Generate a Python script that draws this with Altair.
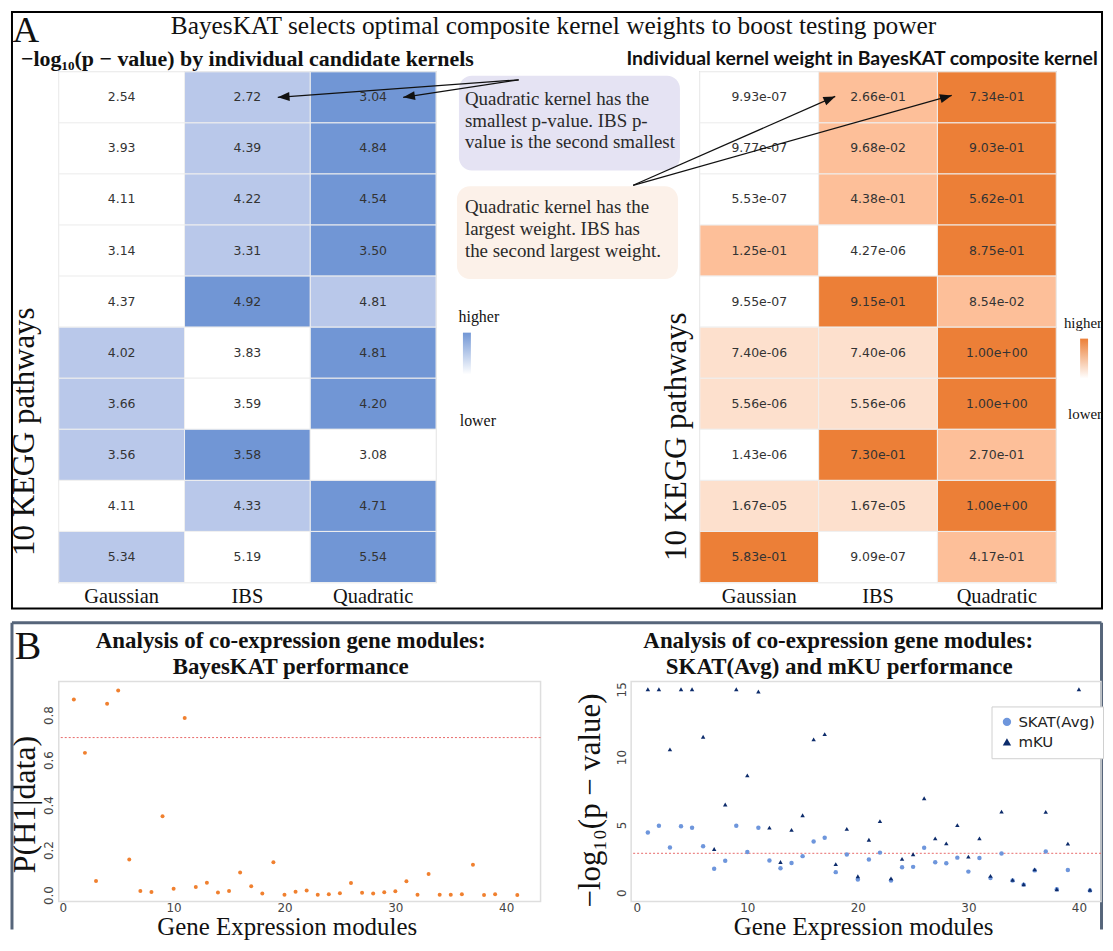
import math
import altair as alt
import pandas as pd

SERIF = "Liberation Serif"
SANS = "DejaVu Sans"

# ---------------- data ----------------
KERNELS = ["Gaussian", "IBS", "Quadratic"]
PATHWAYS = [1, 2, 3, 4, 5, 6, 7, 8, 9, 10]

LOGP_GAUSSIAN = [2.54, 3.93, 4.11, 3.14, 4.37, 4.02, 3.66, 3.56, 4.11, 5.34]
LOGP_IBS = [2.72, 4.39, 4.22, 3.31, 4.92, 3.83, 3.59, 3.58, 4.33, 5.19]
LOGP_QUADRATIC = [3.04, 4.84, 4.54, 3.50, 4.81, 4.81, 4.20, 3.08, 4.71, 5.54]

WEIGHT_GAUSSIAN = [9.93e-07, 9.77e-07, 5.53e-07, 1.25e-01, 9.55e-07,
                   7.40e-06, 5.56e-06, 1.43e-06, 1.67e-05, 5.83e-01]
WEIGHT_IBS = [2.66e-01, 9.68e-02, 4.38e-01, 4.27e-06, 9.15e-01,
              7.40e-06, 5.56e-06, 7.30e-01, 1.67e-05, 9.09e-07]
WEIGHT_QUADRATIC = [7.34e-01, 9.03e-01, 5.62e-01, 8.75e-01, 8.54e-02,
                    1.00e+00, 1.00e+00, 2.70e-01, 1.00e+00, 4.17e-01]

BAYES_MODULES = [1, 2, 3, 4, 5, 6, 7, 8, 9, 10, 11, 12, 13, 14, 15, 16, 17, 18, 19, 20,
                 21, 22, 23, 24, 25, 26, 27, 28, 29, 30, 31, 32, 33, 34, 35, 36, 37, 38, 39, 41]
BAYES_PROB = [0.869, 0.632, 0.062, 0.850, 0.909, 0.158, 0.018, 0.014, 0.350, 0.028,
              0.787, 0.036, 0.055, 0.011, 0.018, 0.100, 0.039, 0.007, 0.146, 0.001,
              0.015, 0.020, 0.001, 0.004, 0.008, 0.054, 0.010, 0.007, 0.012, 0.017,
              0.061, 0.001, 0.094, 0.001, 0.001, 0.004, 0.135, 0.000, 0.004, 0.000]
BAYES_THRESHOLD = 0.7

SKAT_MODULES = [1, 2, 3, 4, 5, 6, 7, 8, 9, 10, 11, 12, 13, 14, 15, 16, 17, 18, 19, 20,
                21, 22, 23, 24, 25, 26, 27, 28, 29, 30, 31, 32, 33, 34, 35, 36, 37, 38, 39, 41]
SKAT_LOGP = [4.43, 4.93, 3.33, 4.89, 4.79, 3.42, 1.76, 2.35, 4.93, 2.99,
             4.79, 2.37, 1.80, 2.19, 2.69, 3.77, 4.04, 1.51, 2.81, 0.96,
             2.44, 2.95, 0.89, 1.87, 1.90, 3.31, 2.24, 2.17, 2.58, 1.55,
             2.56, 1.07, 2.88, 0.89, 0.59, 1.64, 3.04, 0.25, 1.67, 0.16]
MKU_MODULES = [1, 2, 3, 4, 5, 6, 7, 8, 9, 10, 11, 12, 13, 14, 15, 16, 17, 18, 19, 20,
               21, 22, 23, 24, 25, 26, 27, 28, 29, 30, 31, 32, 33, 34, 35, 36, 37, 38, 39, 40, 41]
MKU_LOGP = [15.0, 15.0, 10.57, 15.0, 15.0, 11.5, 3.22, 6.5, 15.0, 8.65,
            14.84, 4.79, 2.26, 4.63, 5.71, 11.3, 11.69, 2.10, 4.70, 1.21,
            3.90, 5.27, 1.05, 2.49, 2.83, 6.96, 4.00, 3.63, 4.98, 2.65,
            4.00, 1.23, 5.98, 0.94, 0.62, 1.71, 5.96, 0.25, 3.61, 15.0, 0.21]
LOGP_THRESHOLD = 2.9
METHODS = ["SKAT(Avg)", "mKU"]
X_TICKS = [0, 10, 20, 30, 40]

# ---------------- styles ----------------
LEVELS = ["1", "1.5", "2", "3"]
BLUES = ["#ffffff", "#dde4f5", "#b9c8ea", "#7196d5"]
ORANGES = ["#ffffff", "#fde0cd", "#fdbf99", "#ec7f37"]
ORANGE_PT = "#f0802f"
SKAT_COLOR = "#6e96dc"
MKU_COLOR = "#0c2b6b"
THR_COLOR = "#e86a6a"

# page-coordinate origins of the four plot areas
HL = (56, 69)
HR = (700, 69)
HW_L, HW_R, HH = 379, 358, 513
SL = (56, 679)
SR = (631, 679)
SW_L, SW_R, SH = 484, 472, 221

ONE = pd.DataFrame({"k": [0]})


def txt(s, px, py, org, size, font=SERIF, weight="normal", align="left",
        baseline="alphabetic", color="#111111"):
    return alt.Chart(ONE).mark_text(
        text=s, font=font, fontSize=size, fontWeight=weight, align=align,
        baseline=baseline, color=color
    ).encode(x=alt.value(px - org[0]), y=alt.value(py - org[1]))


def box(x1, y1, x2, y2, org, fill="#ffffff", fill_opacity=1.0, stroke=None, sw=0, radius=0):
    kw = dict(fill=fill, fillOpacity=fill_opacity, cornerRadius=radius)
    if stroke:
        kw.update(stroke=stroke, strokeWidth=sw)
    else:
        kw.update(strokeWidth=0)
    return alt.Chart(ONE).mark_rect(**kw).encode(
        x=alt.value(x1 - org[0]), x2=alt.value(x2 - org[0]),
        y=alt.value(y1 - org[1]), y2=alt.value(y2 - org[1]))


def gbox(x1, y1, x2, y2, org, top_color):
    grad = alt.LinearGradient(
        gradient="linear", x1=0, y1=1, x2=0, y2=0,
        stops=[alt.GradientStop(offset=0, color="#ffffff"),
               alt.GradientStop(offset=1, color=top_color)])
    return alt.Chart(ONE).mark_rect(fill=grad, strokeWidth=0).encode(
        x=alt.value(x1 - org[0]), x2=alt.value(x2 - org[0]),
        y=alt.value(y1 - org[1]), y2=alt.value(y2 - org[1]))


def seg(x1, y1, x2, y2, org, color="#111111", sw=1.0):
    return alt.Chart(ONE).mark_rule(color=color, strokeWidth=sw).encode(
        x=alt.value(x1 - org[0]), y=alt.value(y1 - org[1]),
        x2=alt.value(x2 - org[0]), y2=alt.value(y2 - org[1]))


def arrow(x1, y1, x2, y2, org):
    ang = math.degrees(math.atan2(y2 - y1, x2 - x1)) % 360
    head = alt.Chart(ONE).mark_point(
        shape="M0,0L-1,-0.38L-1,0.38Z", filled=True, color="#111111",
        opacity=1, size=560, angle=ang, strokeWidth=0
    ).encode(x=alt.value(x2 - org[0]), y=alt.value(y2 - org[1]))
    return [seg(x1, y1, x2, y2, org, sw=1.2), head]


def heat_frame(g, i, q, fmt):
    recs = []
    for r, p in enumerate(PATHWAYS):
        vals = [g[r], i[r], q[r]]
        ranks = pd.Series(vals).rank(method="average").tolist()
        for k, v, rk in zip(KERNELS, vals, ranks):
            recs.append(dict(pathway=p, kernel=k, value=v,
                             label=format(v, fmt), level=f"{rk:g}"))
    return pd.DataFrame(recs)


def heat_layers(df, colors, org, ytitle_page):
    base = alt.Chart(df).encode(
        x=alt.X("kernel:N", sort=KERNELS,
                scale=alt.Scale(paddingInner=0, paddingOuter=0),
                axis=alt.Axis(title=None, orient="bottom", labelAngle=0, labelFont=SERIF,
                              labelFontSize=20.5, labelColor="#111111", labelPadding=4,
                              ticks=False, domain=False, grid=False)),
        y=alt.Y("pathway:O", sort=PATHWAYS,
                scale=alt.Scale(paddingInner=0, paddingOuter=0),
                axis=alt.Axis(title="10 KEGG pathways", labels=False, ticks=False,
                              domain=False, grid=False, titleFont=SERIF, titleFontSize=31,
                              titleFontWeight="normal", titleColor="#111111",
                              titleAngle=270, titleAlign="center", titleBaseline="middle",
                              titleX=ytitle_page[0] - org[0], titleY=ytitle_page[1] - org[1])),
    )
    cells = base.mark_rect(stroke="#efefef", strokeWidth=1).encode(
        color=alt.Color("level:N", scale=alt.Scale(domain=LEVELS, range=colors), legend=None))
    labels = base.mark_text(font=SANS, fontSize=12.5, color="#333333").encode(text="label:N")
    return [cells, labels]


# ---------------- panel A ----------------
df_logp = heat_frame(LOGP_GAUSSIAN, LOGP_IBS, LOGP_QUADRATIC, ".2f")
df_w = heat_frame(WEIGHT_GAUSSIAN, WEIGHT_IBS, WEIGHT_QUADRATIC, ".2e")

row1_y = HL[1] + HH / 20

decor_a = [
    box(9, 9, 1104, 608, HL, fill="#ffffff", fill_opacity=0, stroke="#000000", sw=2),
    txt("A", 23, 39, HL, 37, align="center"),
    txt("BayesKAT selects optimal composite kernel weights to boost testing power",
        553, 31, HL, 25.5, align="center"),
    txt("\u2212log\u2081\u2080(p \u2212 value) by individual candidate kernels",
        18, 63, HL, 22, weight="bold"),
    box(458, 73, 680, 168, HL, fill="#e5e3f3", radius=13),
    box(456, 184, 678, 277, HL, fill="#fcf1e9", radius=13),
    txt("Quadratic kernel has the", 464, 102, HL, 19, color="#2a2a2a"),
    txt("smallest p-value. IBS p-", 464, 124, HL, 19, color="#2a2a2a"),
    txt("value is the second smallest", 464, 146, HL, 19, color="#2a2a2a"),
    txt("Quadratic kernel has the", 464, 211, HL, 19, color="#2a2a2a"),
    txt("largest weight. IBS has", 464, 233, HL, 19, color="#2a2a2a"),
    txt("the second largest weight.", 464, 255, HL, 19, color="#2a2a2a"),
    txt("higher", 478, 320, HL, 16, align="center"),
    gbox(462, 331, 470, 373, HL, BLUES[-1]),
    txt("lower", 477, 425, HL, 16, align="center"),
]
decor_a += arrow(518, 77, 276, row1_y, HL)
decor_a += arrow(518, 77, 402, row1_y, HL)

heatL = alt.layer(*heat_layers(df_logp, BLUES, HL, (22, 430)), *decor_a).properties(
    width=HW_L, height=HH)

decor_r = [
    txt("Individual kernel weight in BayesKAT composite kernel", 863, 62, HR, 19.5,
        font="Lato", weight="bold", align="center"),
    txt("higher", 1104, 326, HR, 15, align="right"),
    gbox(1082, 337, 1090, 377, HR, ORANGES[-1]),
    txt("lower", 1104, 418, HR, 15, align="right"),
]
decor_r += arrow(633, 183, 836, row1_y - 1, HR)
decor_r += arrow(633, 183, 953, row1_y - 2, HR)

heatR = alt.layer(*heat_layers(df_w, ORANGES, HR, (677, 435)), *decor_r).properties(
    width=HW_R, height=HH)


# ---------------- panel B ----------------
def sc_axis(**kw):
    return alt.Axis(grid=False, ticks=False, domain=False, labelFont=SANS, labelFontSize=12,
                    labelColor="#444444", titleFont=SERIF, titleFontWeight="normal",
                    titleColor="#111111", **kw)


df_bayes = pd.DataFrame({"module": BAYES_MODULES, "prob": BAYES_PROB})
xL = alt.X("module:Q", scale=alt.Scale(domain=[-0.36, 43.1], nice=False, zero=False),
           axis=sc_axis(values=X_TICKS, title="Gene Expression modules", titleFontSize=25,
                        labelPadding=1, titleX=285 - SL[0], titleY=933 - (SL[1] + SH),
                        titleBaseline="alphabetic"))
yL = alt.Y("prob:Q", scale=alt.Scale(domain=[-0.029, 0.949], nice=False, zero=False),
           axis=sc_axis(values=[0, 0.2, 0.4, 0.6, 0.8], format=".1f", labelAngle=270,
                        labelPadding=3, title="P(H1|data)", titleFontSize=32,
                        titleX=22 - SL[0], titleY=802 - SL[1], titleAngle=270,
                        titleAlign="center", titleBaseline="middle"))
ptsL = alt.Chart(df_bayes).mark_circle(size=16, color=ORANGE_PT, opacity=1).encode(x=xL, y=yL)
thrL = alt.Chart(pd.DataFrame({"prob": [BAYES_THRESHOLD]})).mark_rule(
    color=THR_COLOR, strokeDash=[2, 2], strokeWidth=1).encode(y=alt.Y("prob:Q"))

decor_b = [
    seg(9, 620, 1103.5, 620, SL, color="#56657a", sw=3),
    seg(9, 620, 9, 928, SL, color="#56657a", sw=3),
    seg(1103.5, 620, 1103.5, 928, SL, color="#56657a", sw=3),
    txt("B", 25, 656, SL, 40, align="center"),
    txt("Analysis of co-expression gene modules:", 289, 645, SL, 23, weight="bold", align="center"),
    txt("BayesKAT performance", 289, 671, SL, 23, weight="bold", align="center"),
]
scatL = alt.layer(thrL, ptsL, *decor_b).properties(width=SW_L, height=SH)

df_methods = pd.concat([
    pd.DataFrame({"module": SKAT_MODULES, "logp": SKAT_LOGP, "method": METHODS[0]}),
    pd.DataFrame({"module": MKU_MODULES, "logp": MKU_LOGP, "method": METHODS[1]}),
], ignore_index=True)

leg = alt.Legend(title=None, orient="none", legendX=993 - SR[0], legendY=704 - SR[1],
                 fillColor="#ffffff", strokeColor="#d0d0d0", padding=8,
                 labelFont=SANS, labelFontSize=15, labelColor="#222222",
                 symbolSize=70, rowPadding=4, symbolOpacity=1, symbolStrokeWidth=0)
xR = alt.X("module:Q", scale=alt.Scale(domain=[-0.51, 42.0], nice=False, zero=False),
           axis=sc_axis(values=X_TICKS, title="Gene Expression modules", titleFontSize=25,
                        labelPadding=1, titleX=864 - SR[0], titleY=933 - (SR[1] + SH),
                        titleBaseline="alphabetic"))
yR = alt.Y("logp:Q", scale=alt.Scale(domain=[-0.66, 15.57], nice=False, zero=False),
           axis=sc_axis(values=[0, 5, 10, 15], labelAngle=270, labelPadding=3,
                        title="\u2212log\u2081\u2080(p \u2212 value)", titleFontSize=31,
                        titleX=590 - SR[0], titleY=798 - SR[1], titleAngle=270,
                        titleAlign="center", titleBaseline="middle"))
ptsR = alt.Chart(df_methods).mark_point(filled=True, opacity=1, strokeWidth=0, size=20).encode(
    x=xR, y=yR,
    color=alt.Color("method:N", scale=alt.Scale(domain=METHODS, range=[SKAT_COLOR, MKU_COLOR]),
                    legend=leg),
    shape=alt.Shape("method:N", scale=alt.Scale(domain=METHODS, range=["circle", "triangle-up"]),
                    legend=leg),
)
thrR = alt.Chart(pd.DataFrame({"logp": [LOGP_THRESHOLD]})).mark_rule(
    color=THR_COLOR, strokeDash=[2, 2], strokeWidth=1).encode(y=alt.Y("logp:Q"))

decor_c = [
    txt("Analysis of co-expression gene modules:", 839, 645, SR, 23, weight="bold", align="center"),
    txt("SKAT(Avg) and mKU performance", 840, 671, SR, 23, weight="bold", align="center"),
]
scatR = alt.layer(thrR, ptsR, *decor_c).properties(width=SW_R, height=SH)

rowA = alt.hconcat(heatL, heatR, spacing=HR[0] - HL[0] - HW_L, bounds="flush").resolve_scale(
    x="independent", y="independent", color="independent")
rowB = alt.hconcat(scatL, scatR, spacing=SR[0] - SL[0] - SW_L, bounds="flush").resolve_scale(
    x="independent", y="independent", color="independent", shape="independent")

chart = alt.vconcat(rowA, rowB, spacing=9.5, bounds="full").resolve_scale(
    x="independent", y="independent", color="independent", shape="independent"
).properties(padding=0, background="#ffffff").configure_view(
    stroke="#dedede", strokeWidth=1.5)

chart.save("out.html", embed_options={"renderer": "svg", "actions": False})
